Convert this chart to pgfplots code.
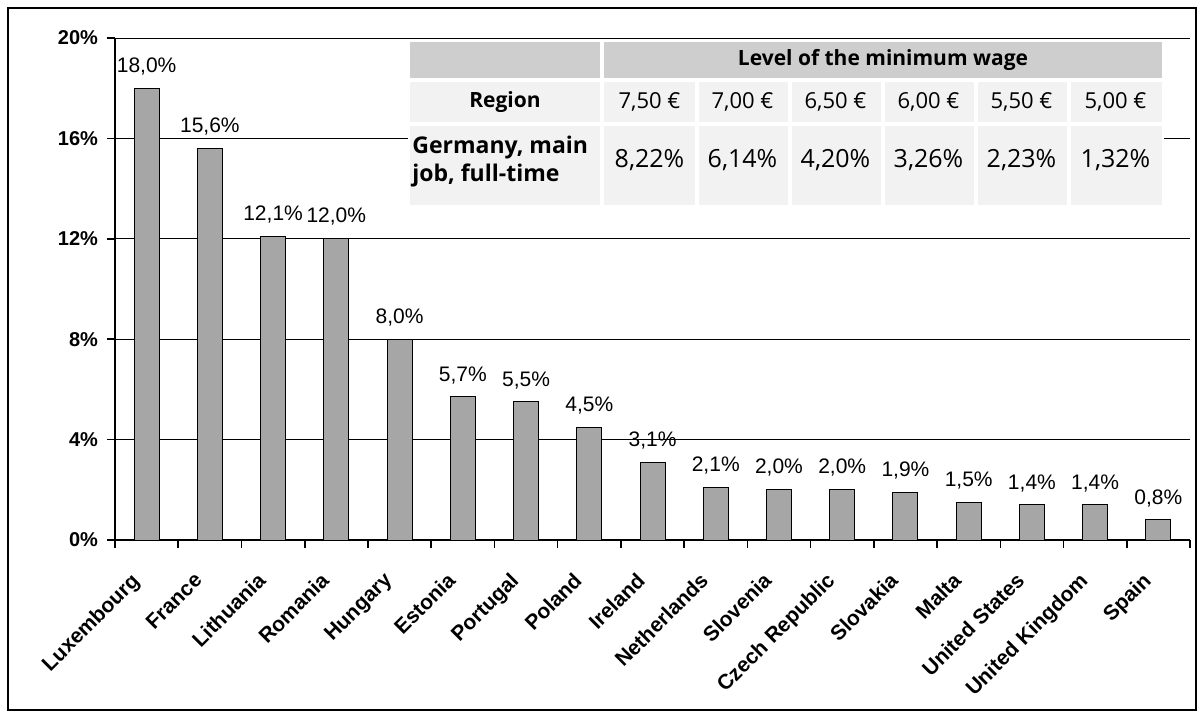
\documentclass[border=0pt]{standalone}
\usepackage{fontspec}
\setmainfont{Liberation Sans}
\newfontfamily\tabfont{Open Sans}
\usepackage{pgfplots}
\pgfplotsset{compat=1.18}
\definecolor{bargray}{RGB}{166,166,166}
\definecolor{hdrgray}{RGB}{206,206,206}
\definecolor{cellgray}{RGB}{242,242,242}
\begin{document}
\begin{tikzpicture}
\useasboundingbox (0pt,0pt) rectangle (602pt,360pt);
\draw[line width=0.8pt] (4pt,5pt) rectangle (598pt,356pt);
\begin{axis}[
  at={(57.5pt,90pt)}, anchor=south west,
  scale only axis, width=537.5pt, height=251pt,
  xmin=-0.5, xmax=16.5, ymin=0, ymax=20,
  axis lines=left, axis line style={-, line width=0.8pt},
  tick align=outside, major tick length=4pt,
  tick style={black, line width=0.8pt},
  ytick={0,4,8,12,16,20},
  ymajorgrids, grid style={black, line width=0.5pt},
  yticklabel={\pgfmathprintnumber[assume math mode=true]{\tick}\%},
  yticklabel style={font=\bfseries\fontsize{10}{12}\selectfont, xshift=-1pt},
  xtick={-0.5,0.5,...,16.5},
  x tick label as interval,
  xticklabels={Luxembourg,France,Lithuania,Romania,Hungary,Estonia,Portugal,Poland,Ireland,Netherlands,Slovenia,Czech Republic,Slovakia,Malta,United States,United Kingdom,Spain},
  xticklabel style={font=\bfseries\fontsize{10.5}{12}\selectfont, xshift=-8.5pt, yshift=-10pt, rotate=45, anchor=north east, inner sep=1pt},
  ybar, bar width=12.5pt,
  nodes near coords={\pgfmathprintnumber[fixed,fixed zerofill,precision=1,use comma,assume math mode=true]{\pgfplotspointmeta}\%},
  nodes near coords style={font=\fontsize{10.5}{12}\selectfont, yshift=3pt},
]
\addplot[fill=bargray, draw=black, line width=0.5pt] coordinates {
(0,18.0) (1,15.6) (2,12.1) (3,12.0) (4,8.0) (5,5.7) (6,5.5) (7,4.5) (8,3.1)
(9,2.1) (10,2.0) (11,2.0) (12,1.9) (13,1.5) (14,1.4) (15,1.4) (16,0.8)};
\end{axis}
% inset table
\fill[white] (204pt,256.5pt) rectangle (582pt,340pt);
\fill[hdrgray] (205pt,321pt) rectangle (300pt,339pt);
\fill[hdrgray] (302pt,321pt) rectangle (581pt,339pt);
\fill[cellgray] (205pt,299pt) rectangle (300pt,319pt);
\fill[cellgray] (205pt,257.5pt) rectangle (300pt,297pt);
\foreach \a/\b in {302/347.5,349.5/394,396/440.5,442.5/487,489/533.5,535.5/581}{
  \fill[cellgray] (\a pt,299pt) rectangle (\b pt,319pt);
  \fill[cellgray] (\a pt,257.5pt) rectangle (\b pt,297pt);
}
\node[font=\tabfont\bfseries\fontsize{10.5}{12}\selectfont] at (441.5pt,330pt) {Level of the minimum wage};
\node[font=\tabfont\bfseries\fontsize{10.5}{12}\selectfont] at (252.5pt,309pt) {Region};
\node[font=\tabfont\bfseries\fontsize{11.5}{14}\selectfont, anchor=west, align=left, inner sep=0pt] at (206pt,279pt) {Germany, main\\job, full-time};
\foreach \x/\e/\p in {324.75/{7,50 €}/{8,22\%},371.25/{7,00 €}/{6,14\%},417.75/{6,50 €}/{4,20\%},464.25/{6,00 €}/{3,26\%},510.75/{5,50 €}/{2,23\%},557.75/{5,00 €}/{1,32\%}}{
  \node[font=\tabfont\fontsize{11}{12}\selectfont] at (\x pt,309pt) {\e};
  \node[font=\tabfont\fontsize{12.5}{13}\selectfont] at (\x pt,280pt) {\p};
}
\end{tikzpicture}
\end{document}
